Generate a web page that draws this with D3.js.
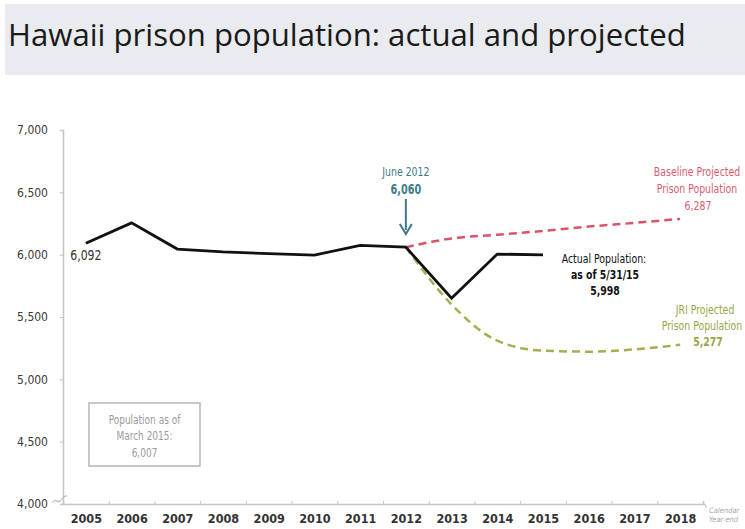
<!DOCTYPE html>
<html>
<head>
<meta charset="utf-8">
<script src="https://cdn.jsdelivr.net/npm/d3@7"></script>
<style>
  body { margin: 0; background: #fff; }
  svg { display: block; }
  text { font-family: "DejaVu Sans Condensed", "Open Sans", sans-serif; }
</style>
</head>
<body>
<svg id="chart" width="745" height="529"></svg>
<script>
const years = [2005, 2006, 2007, 2008, 2009, 2010, 2011, 2012, 2013, 2014, 2015, 2016, 2017, 2018];
const yTicks = [4000, 4500, 5000, 5500, 6000, 6500, 7000];

const actualYears = [2005, 2006, 2007, 2008, 2009, 2010, 2011, 2012, 2013, 2014, 2015];
const actualValues = [6092, 6255, 6045, 6022, 6008, 5997, 6075, 6060, 5650, 6005, 5998];

const projYears = [2012, 2013, 2014, 2015, 2016, 2017, 2018];
const baselineValues = [6060, 6130, 6160, 6190, 6225, 6255, 6287];
const jriValues = [6060, 5600, 5310, 5230, 5222, 5240, 5277];

const svg = d3.select('#chart');

// narrow text: scale horizontally like the condensed font of the original
function label(x0, y0, t, color, size, weight, sx) {
  return svg.append('text')
    .attr('transform', `translate(${x0},${y0}) scale(${sx || 0.8},1)`)
    .attr('text-anchor', 'middle')
    .attr('fill', color)
    .style('font-size', size + 'px')
    .style('font-weight', weight || 'normal')
    .text(t);
}

// title band
svg.append('rect').attr('x', 5).attr('y', 4).attr('width', 740).attr('height', 71).attr('fill', '#e9ebee');
const title = svg.append('text')
  .attr('x', 8).attr('y', 46)
  .attr('fill', '#1a1a1a')
  .style('font-family', '"Open Sans", sans-serif')
  .style('font-size', '32px')
  .text('Hawaii prison population: actual and projected');
const tw = title.node().getComputedTextLength();
title.style('font-size', (32 * 678 / tw) + 'px');

const x = d3.scaleLinear().domain([2004.5, 2018.5]).range([63, 703]);
const y = d3.scaleLinear().domain([4000, 7000]).range([504, 130]);

// y axis
const yAxis = svg.append('g')
  .attr('transform', 'translate(63,0)')
  .call(d3.axisLeft(y).tickValues(yTicks).tickSize(3).tickPadding(12).tickFormat(d3.format(',')));
yAxis.select('.domain').attr('stroke', '#c4c4c4').attr('stroke-width', 1.5);
yAxis.selectAll('.tick line').attr('stroke', '#c4c4c4');
yAxis.selectAll('.tick text').attr('fill', '#3a3a3a').style('font-size', '12px');

// x axis: boundary ticks
const xAxis = svg.append('g')
  .attr('transform', 'translate(0,504)')
  .call(d3.axisBottom(x).tickValues(years.slice(1).map(d => d - 0.5)).tickSize(-3).tickFormat(''));
xAxis.select('.domain').attr('stroke', '#c4c4c4').attr('stroke-width', 1.5);
xAxis.selectAll('.tick line').attr('stroke', '#c4c4c4');

// x labels
svg.append('g')
  .attr('transform', 'translate(0,504)')
  .call(d3.axisBottom(x).tickValues(years).tickSize(0).tickPadding(10).tickFormat(d3.format('d')))
  .call(g => g.select('.domain').remove())
  .selectAll('text').attr('fill', '#333').style('font-size', '12.5px').style('font-weight', 'bold');

// axis break and end hook
svg.append('path').attr('d', 'M52,503 q3,-4 5,-2 t5,-2 t5,-3').attr('fill', 'none').attr('stroke', '#bbb').attr('stroke-width', 1.2);
svg.append('path').attr('d', 'M703,504 q3,0 3,4').attr('fill', 'none').attr('stroke', '#c4c4c4').attr('stroke-width', 1.2);
svg.append('text').attr('x', 709).attr('y', 513).attr('fill', '#aaa').style('font-size', '7.5px').style('font-style', 'italic').text('Calendar');
svg.append('text').attr('x', 709).attr('y', 522).attr('fill', '#aaa').style('font-size', '7.5px').style('font-style', 'italic').text('Year-end');

// projections
const projLine = d3.line().x((d, i) => x(projYears[i])).y(d => y(d)).curve(d3.curveMonotoneX);
svg.append('path').attr('d', projLine(baselineValues))
  .attr('fill', 'none').attr('stroke', '#d9546a').attr('stroke-width', 2.5).attr('stroke-dasharray', '8,5');
svg.append('path').attr('d', projLine(jriValues))
  .attr('fill', 'none').attr('stroke', '#a9ad4e').attr('stroke-width', 2.5).attr('stroke-dasharray', '8,5');

// actual
const actLine = d3.line().x((d, i) => x(actualYears[i])).y(d => y(d));
svg.append('path').attr('d', actLine(actualValues))
  .attr('fill', 'none').attr('stroke', '#111').attr('stroke-width', 2.8).attr('stroke-linejoin', 'miter');

// labels
label(x(2005) + 0, y(6092) + 17, '6,092', '#333', 13.5, 'normal', 0.9);

const teal = '#3d7b8a';
label(x(2012), 176, 'June 2012', teal, 13);
label(x(2012), 194, '6,060', teal, 13.5, 'bold');
svg.append('line').attr('x1', x(2012)).attr('x2', x(2012)).attr('y1', 199).attr('y2', 230).attr('stroke', teal).attr('stroke-width', 2);
svg.append('path').attr('d', `M${x(2012) - 6},224 L${x(2012)},234 L${x(2012) + 6},224`).attr('fill', 'none').attr('stroke', teal).attr('stroke-width', 2);

const red = '#d95c70';
label(697, 176, 'Baseline Projected', red, 13);
label(697, 193, 'Prison Population', red, 13);
label(698, 210, '6,287', red, 13);

label(604, 263, 'Actual Population:', '#111', 13);
label(605, 279, 'as of 5/31/15', '#111', 13, 'bold');
label(605, 295, '5,998', '#111', 13, 'bold');

const green = '#9ba547';
label(705, 314, 'JRI Projected', green, 13);
label(702, 330, 'Prison Population', green, 13);
label(708, 346, '5,277', green, 13, 'bold');

// note box
svg.append('rect').attr('x', 89).attr('y', 403).attr('width', 111).attr('height', 63).attr('fill', 'none').attr('stroke', '#b5b5b5').attr('stroke-width', 1.5);
label(144.5, 424, 'Population as of', '#9a9a9a', 12.5);
label(144.5, 440, 'March 2015:', '#9a9a9a', 12.5);
label(144.5, 457, '6,007', '#9a9a9a', 12.5);
</script>
</body>
</html>
